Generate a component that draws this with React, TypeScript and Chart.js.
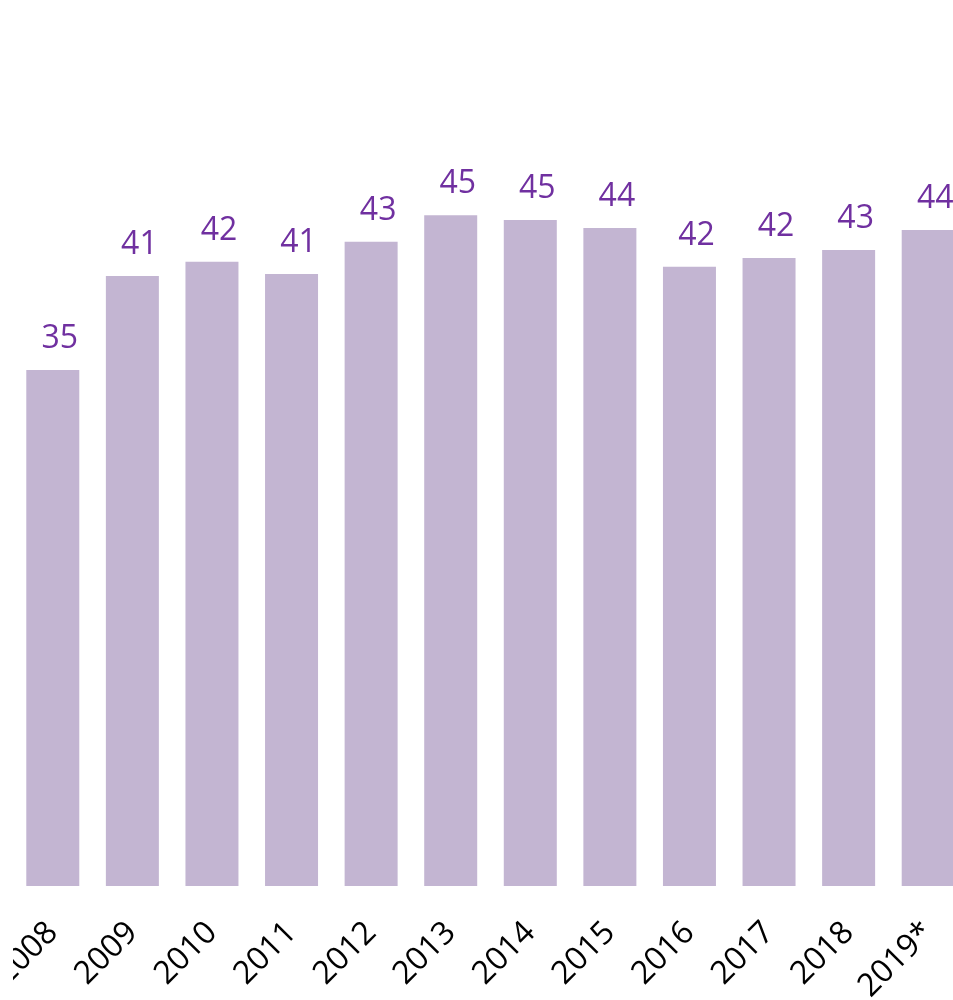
import React, { useEffect, useRef } from "react";
import { Chart, registerables } from "chart.js";

Chart.register(...registerables);

const categories = ["2008", "2009", "2010", "2011", "2012", "2013", "2014", "2015", "2016", "2017", "2018", "2019*"];
const values = [34.75, 41.08, 42.04, 41.21, 43.39, 45.16, 44.85, 44.31, 41.7, 42.29, 42.83, 44.18];

const BAR_COLOR = "#C3B5D2";
const LABEL_COLOR = "#7030A0";

const valueLabels = {
  id: "valueLabels",
  afterDatasetsDraw(chart: any) {
    const ctx = chart.ctx;
    const meta = chart.getDatasetMeta(0);
    ctx.save();
    ctx.font = "32px 'Open Sans'";
    ctx.fillStyle = LABEL_COLOR;
    ctx.textAlign = "center";
    ctx.textBaseline = "alphabetic";
    meta.data.forEach((bar: any, i: number) => {
      const v = chart.data.datasets[0].data[i] as number;
      ctx.fillText(String(Math.round(v)), bar.x + 7, bar.y - 22);
    });
    ctx.restore();
  },
};

export default function App() {
  const ref = useRef<HTMLCanvasElement | null>(null);
  useEffect(() => {
    if (!ref.current) return;
    const chart = new Chart(ref.current, {
      type: "bar",
      data: {
        labels: categories,
        datasets: [
          {
            data: values,
            backgroundColor: BAR_COLOR,
            barPercentage: 0.666,
            categoryPercentage: 1,
          },
        ],
      },
      options: {
        animation: false,
        responsive: false,
        devicePixelRatio: 1,
        layout: { padding: { top: 143.5, left: 0, right: 0, bottom: 0 } },
        plugins: { legend: { display: false }, tooltip: { enabled: false } },
        scales: {
          x: {
            grid: { display: false, drawTicks: false },
            border: { display: false },
            ticks: {
              color: "#000",
              font: { family: "'Open Sans'", size: 32 },
              minRotation: 45,
              maxRotation: 45,
              padding: 28,
              autoSkip: false,
            },
            afterFit: (s: any) => {
              s.height = 114;
              s.paddingLeft = 0;
              s.paddingRight = 0;
            },
          },
          y: {
            display: false,
            min: 0,
            max: 50,
          },
        },
      },
      plugins: [valueLabels],
    });
    return () => chart.destroy();
  }, []);
  return (
    <div style={{ position: "absolute", left: 0, top: 0, width: 953, height: 1000, overflow: "hidden", background: "#fff" }}>
      <canvas ref={ref} width={955} height={1000} style={{ position: "absolute", left: 12.7, top: 0, width: 955, height: 1000 }} />
    </div>
  );
}
